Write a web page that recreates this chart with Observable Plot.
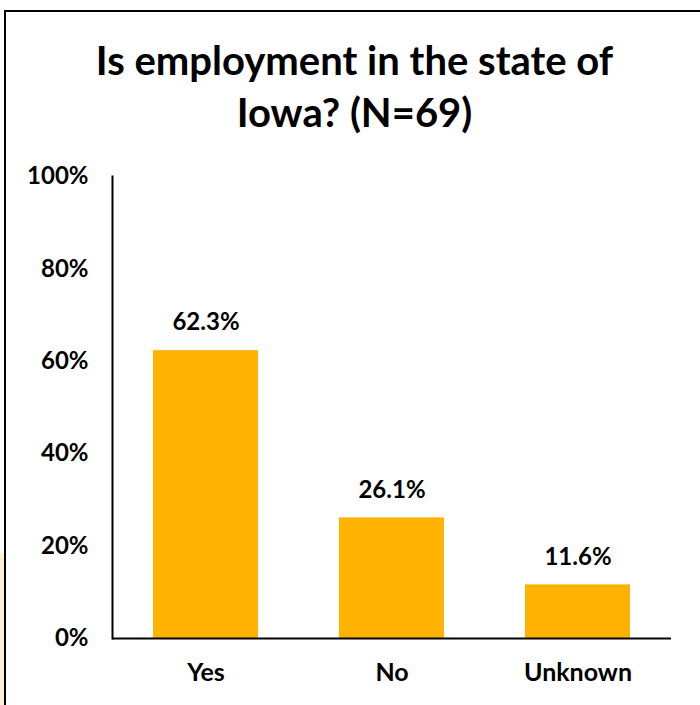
<!DOCTYPE html>
<html><head><meta charset="utf-8">
<script src="https://cdn.jsdelivr.net/npm/d3@7"></script>
<script src="https://cdn.jsdelivr.net/npm/@observablehq/plot@0.6"></script>
<style>
body{margin:0;background:#fff;font-family:Lato,"Open Sans",sans-serif;}
#wrap{position:relative;width:700px;height:705px;overflow:hidden;}
#frameTop{position:absolute;left:4px;top:10px;width:696px;height:2px;background:#000;}
#frameLeft{position:absolute;left:4px;top:10px;width:2px;height:695px;background:#000;}
#shade{position:absolute;left:0;top:553px;width:4px;height:152px;background:#fdf0d4;}
#title{position:absolute;left:0;top:34px;width:709px;text-align:center;font-weight:700;font-size:40px;line-height:52px;color:#000;}
#chart{position:absolute;left:0;top:150px;}
</style></head>
<body>
<div id="wrap">
<div id="shade"></div>
<div id="frameTop"></div>
<div id="frameLeft"></div>
<div id="title">Is employment in the state of<br>Iowa? (N=69)</div>
<div id="chart"></div>
</div>
<script>
const categories = ["Yes", "No", "Unknown"];
const values = [62.3, 26.1, 11.6];
const yTicks = [0, 20, 40, 60, 80, 100];

const data = categories.map((c, i) => ({category: c, value: values[i]}));

const plot = Plot.plot({
  width: 700,
  height: 540,
  marginTop: 26,
  marginBottom: 52,
  marginLeft: 112,
  marginRight: 29,
  style: {fontFamily: "Lato, 'Open Sans', sans-serif", fontSize: "24px", fontWeight: "700", color: "#000", background: "transparent"},
  x: {domain: categories, paddingInner: 0.436, paddingOuter: 0.218, label: null},
  y: {domain: [0, 100], label: null},
  marks: [
    Plot.barY(data, {x: "category", y: "value", fill: "#FFB300"}),
    Plot.frame({anchor: "left", stroke: "#000", strokeWidth: 2}),
    Plot.ruleY([0], {stroke: "#000", strokeWidth: 2}),
    Plot.axisY({ticks: yTicks, tickSize: 0, tickPadding: 24, tickFormat: d => d + "%", label: null, fontSize: 24, fontWeight: 700}),
    Plot.axisX({tickSize: 0, tickPadding: 25, label: null, fontSize: 25, fontWeight: 700}),
    Plot.text(data, {x: "category", y: "value", text: d => d.value.toFixed(1) + "%", dy: -28, fontSize: 24, fontWeight: 700, fill: "#000"})
  ]
});
document.getElementById("chart").appendChild(plot);
</script>
</body></html>
